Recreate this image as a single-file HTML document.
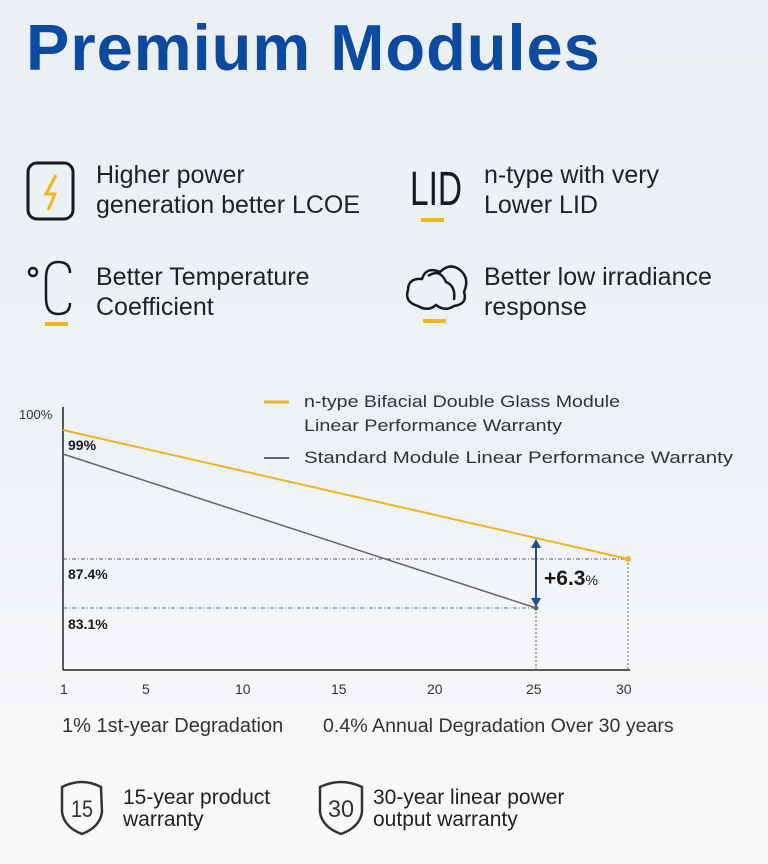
<!DOCTYPE html>
<html><head><meta charset="utf-8"><style>
body{margin:0;width:768px;height:864px;overflow:hidden;background:linear-gradient(180deg,#eaf0f5 0%,#eef2f6 50%,#f7f8fa 85%,#fafafa 100%);font-family:"Liberation Sans",sans-serif;position:relative;color:#1a1a1a}
.t{position:absolute;white-space:nowrap}
h1{position:absolute;left:26px;top:10px;margin:0;font-size:65px;font-weight:bold;color:#0b4a9e;letter-spacing:1px}
.f{font-size:25px;line-height:30px;color:#222}
.s{font-size:21px;line-height:22px;color:#222}
.k{font-size:14px;color:#333}
</style></head><body>
<h1>Premium Modules</h1>
<svg width="768" height="864" style="position:absolute;left:0;top:0">
<rect x="28" y="163" width="45" height="56" rx="9" fill="none" stroke="#1a1a1a" stroke-width="3"/>
<path d="M56 175 L46 194 L55 194 L48 210" fill="none" stroke="#f0b81c" stroke-width="3"/>
<text x="410" y="205" font-family="Liberation Sans Narrow,Liberation Sans,sans-serif" font-size="48" fill="#1a1a1a" textLength="52" lengthAdjust="spacingAndGlyphs">LID</text>
<rect x="421" y="218" width="23" height="4" fill="#f0b81c"/>
<circle cx="33" cy="272" r="4" fill="none" stroke="#1a1a1a" stroke-width="2.5"/>
<path d="M70 273 Q70 262 58 262 Q46 262 46 278 L46 298 Q46 314 58 314 Q70 314 70 303" fill="none" stroke="#1a1a1a" stroke-width="2.5"/>
<rect x="45" y="322" width="23" height="4" fill="#f0b81c"/>
<path d="M418 306 Q404 302 408 290 Q408 278 422 279 Q426 266 440 272 Q450 262 460 270 Q470 278 464 292 Q468 304 454 306 Q445 312 436 305 Q428 312 418 306Z" fill="none" stroke="#1a1a1a" stroke-width="2.5"/>
<path d="M428 276 Q440 268 446 282 Q456 286 454 300" fill="none" stroke="#1a1a1a" stroke-width="2.5"/>
<rect x="423" y="319" width="23" height="4" fill="#f0b81c"/>
<line x1="63" y1="407" x2="63" y2="670" stroke="#222" stroke-width="1.5"/>
<line x1="63" y1="670" x2="630" y2="670" stroke="#222" stroke-width="1.5"/>
<line x1="63" y1="559" x2="628" y2="559" stroke="#666" stroke-width="1" stroke-dasharray="4 2 1 2"/>
<line x1="63" y1="608" x2="536" y2="608" stroke="#666" stroke-width="1" stroke-dasharray="4 2 1 2"/>
<line x1="536" y1="608" x2="536" y2="670" stroke="#666" stroke-width="1" stroke-dasharray="2 2"/>
<line x1="628" y1="559" x2="628" y2="670" stroke="#666" stroke-width="1" stroke-dasharray="2 2"/>
<line x1="63" y1="430" x2="628" y2="559" stroke="#f0b429" stroke-width="2"/>
<circle cx="628" cy="559" r="3" fill="#f0b429"/>
<line x1="63" y1="454" x2="536" y2="608" stroke="#666" stroke-width="1.5"/>
<circle cx="536" cy="608" r="2.5" fill="#666"/>
<line x1="536" y1="546" x2="536" y2="600" stroke="#1d4f96" stroke-width="2"/>
<path d="M531 548 L536 539 L541 548Z M531 598 L536 607 L541 598Z" fill="#1d4f96"/>
<line x1="264" y1="402" x2="289" y2="402" stroke="#f0b429" stroke-width="3"/>
<line x1="264" y1="458" x2="289" y2="458" stroke="#666" stroke-width="2"/>
<text x="304" y="407" font-size="17" fill="#333" textLength="316" lengthAdjust="spacingAndGlyphs">n-type Bifacial Double Glass Module</text>
<text x="304" y="431" font-size="17" fill="#333" textLength="258" lengthAdjust="spacingAndGlyphs">Linear Performance Warranty</text>
<text x="304" y="463" font-size="17" fill="#333" textLength="429" lengthAdjust="spacingAndGlyphs">Standard Module Linear Performance Warranty</text>
</svg>
<div class="t f" style="left:96px;top:160px">Higher power<br>generation better LCOE</div>
<div class="t f" style="left:484px;top:160px">n-type with very<br>Lower LID</div>
<div class="t f" style="left:96px;top:262px">Better Temperature<br>Coefficient</div>
<div class="t f" style="left:484px;top:262px">Better low irradiance<br>response</div>
<div class="t" style="left:19px;top:407px;font-size:13px;color:#333">100%</div>
<div class="t" style="left:68px;top:437px;font-size:14px;font-weight:bold">99%</div>
<div class="t" style="left:68px;top:566px;font-size:14px;font-weight:bold">87.4%</div>
<div class="t" style="left:68px;top:616px;font-size:14px;font-weight:bold">83.1%</div>
<div class="t" style="left:544px;top:567px;font-size:21px;font-weight:bold">+6.3<span style="font-size:14px;font-weight:normal">%</span></div>
<div class="t k" style="left:60px;top:681px">1</div>
<div class="t k" style="left:142px;top:681px">5</div>
<div class="t k" style="left:235px;top:681px">10</div>
<div class="t k" style="left:331px;top:681px">15</div>
<div class="t k" style="left:427px;top:681px">20</div>
<div class="t k" style="left:526px;top:681px">25</div>
<div class="t k" style="left:616px;top:681px">30</div>
<div class="t" style="left:62px;top:715px;font-size:20px;color:#333">1% 1st-year Degradation</div>
<div class="t" style="left:323px;top:715px;font-size:19.6px;color:#333">0.4% Annual Degradation Over 30 years</div>
<svg width="768" height="864" style="position:absolute;left:0;top:0">
<path d="M62 787 Q82 777 101 787 L102 812 Q100 827 82 834 Q64 827 62 812Z" fill="none" stroke="#333" stroke-width="2.5"/>
<text x="82" y="817" text-anchor="middle" font-size="24" font-family="Liberation Sans Narrow,Liberation Sans,sans-serif" fill="#333" textLength="22" lengthAdjust="spacingAndGlyphs">15</text>
<path d="M320 787 Q341 777 362 787 L362 812 Q360 827 341 834 Q322 827 320 812Z" fill="none" stroke="#333" stroke-width="2.5"/>
<text x="341" y="817" text-anchor="middle" font-size="24" font-family="Liberation Sans Narrow,Liberation Sans,sans-serif" fill="#333" textLength="26" lengthAdjust="spacingAndGlyphs">30</text>
</svg>
<div class="t s" style="left:123px;top:787px">15-year product<br>warranty</div>
<div class="t s" style="left:373px;top:787px">30-year linear power<br>output warranty</div>
</body></html>
